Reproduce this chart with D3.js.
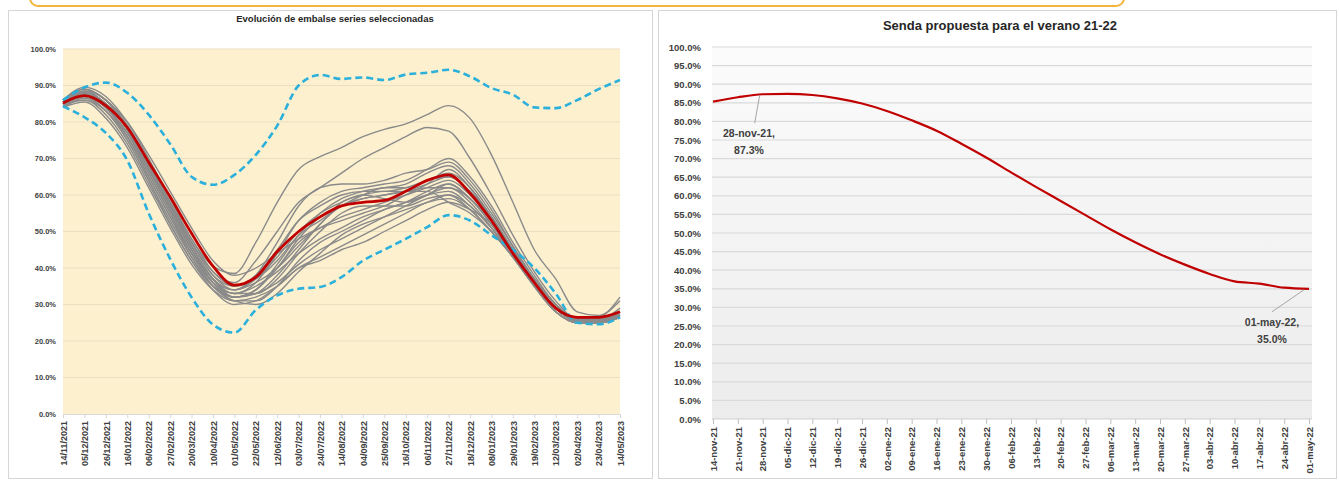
<!DOCTYPE html>
<html><head><meta charset="utf-8">
<script src="https://cdn.jsdelivr.net/npm/d3@7"></script>
<style>
html,body{margin:0;padding:0;background:#fff;}
svg{display:block;font-family:"Liberation Sans",Arial,sans-serif;}
</style></head><body>
<svg id="c" width="1339" height="482"></svg>
<script>
// ---------- LEFT CHART DATA ----------
const leftDates = ["14/11/2021","05/12/2021","26/12/2021","16/01/2022","06/02/2022","27/02/2022","20/03/2022","10/04/2022","01/05/2022","22/05/2022","12/06/2022","03/07/2022","24/07/2022","14/08/2022","04/09/2022","25/09/2022","16/10/2022","06/11/2022","27/11/2022","18/12/2022","08/01/2023","29/01/2023","19/02/2023","12/03/2023","02/04/2023","23/04/2023","14/05/2023"];
const leftTicks = [0,10,20,30,40,50,60,70,80,90,100];
const maxSeries = [86,89.5,90.8,88,82,74,65,62.8,65.5,71,79,90,92.9,91.8,92.2,91.5,93,93.5,94.3,92.5,89.3,87.5,84,83.8,86,89,91.5];
const minSeries = [84.3,81.3,77,69.5,55,42.5,32,24.5,22.3,28.5,32.5,34.3,34.8,37.5,42,45,48,51.2,54.5,53,49,45,40,33,25,24.6,26.5];
const meanSeries = [85.2,87.2,84.5,78.5,69,59.5,49.5,40.5,35.3,37.5,44.5,50,54,57,58,58.5,61,64,65.5,60.5,53,44,36,29,26.5,26.5,28];
const g01 = [86,89.5,87,80,70,59,48,40.5,38.5,47,58,67,70.5,73,76,78,79.5,82,84.5,81,71,58,45,37,28,27,31];
const g02 = [85,88.5,86,78,68,57,47,39,36,42,50,58,62,66,70,73,76,78.5,77.5,70,60,49,39,31,26,26.5,27];
const g03 = [86,89,86,79,69,58,47,38,34,38,47,57,62,63,63,64,66,67,69,64,56,46,37,30,26,26,27];
const g04 = [84.5,87,84,77,67,56,45,36,33,36,44,53,58,61,62,63,64,67,70,65,57,47,38,30,26,26,28];
const g05 = [85,88,85,78,68,57,46,37,32,34,41,49,55,59,61,62,63,66,68,63,55,46,37,30,26,26,27];
const g06 = [86,89,86,79,69,58,48,39,35,37,42,49,53,57,60,62,62,64,66,62,54,45,37,29,26,26,27.5];
const g07 = [85.5,88,84,76,65,54,44,36,32,33,38,45,52,57,59,60,61,63,65,61,54,45,36,29,26,26,28];
const g08 = [84,86.5,83,75,64,53,43,35,32,34,40,47,51,54,56,58,60,62,64,60,53,45,36,29,25.5,25.5,27];
const g09 = [85,87.5,84,77,67,56,45,36,31,31,35,42,47,50,53,56,58,61,63,59,52,44,36,29,25.5,25.5,27];
const g10 = [84.5,86,82,74,63,52,42,35,32,33,36,41,45,48,51,54,57,60,62,59,52,44,36,29,25.5,25.5,27];
const g11 = [85,87,83,76,66,55,44,36,33,35,39,44,48,51,54,56,58,60,61,57,51,43,35,28,25,25,26.5];
const g12 = [86,88.5,85,78,68,57,46,37,34,36,40,46,52,58,60,61,61,62,62,58,51,43,36,29,25.5,25.5,27];
const g13 = [85,88,85,78,67,56,45,37,33,33,37,44,50,55,57,57,57,59,60,56,50,43,35,28,25,25,26.5];
const g14 = [85.5,87.5,84,77,66,55,44,35,31,30,33,39,44,49,52,54,56,58,60,57,51,44,36,29,25.5,25.5,27];
const g15 = [84,85.5,81,73,62,51,41,34,31,32,35,40,43,46,49,52,55,58,59,56,50,43,35,28,25,25,27];
const g16 = [85,87,84,76,65,54,43,35,32,34,40,48,54,57,59,60,61,61,58,55,50,43,35,28,25,25,26.5];
const g17 = [86,89,86,80,71,61,51,42,38,40,44,48,51,53,55,57,60,63,67,62,54,45,37,30,26,26,27];
const g18 = [84.5,86,83,75,64,52,42,34,30,31,35,40,42,45,47,50,53,56,58,56,52,44,36,29,25.5,25,26.5];
const g19 = [85,87.5,85,79,69,58,47,38,35,38,45,53,57,60,61,61,62,64,65,61,54,45,37,30,26,26,29];
const g20 = [85.5,88,85,78,68,57,46,37,34,37,43,50,55,58,60,59,58,60,63,59,53,45,37,30,26,26.5,32];
const graySeries = [g01,g02,g03,g04,g05,g06,g07,g08,g09,g10,g11,g12,g13,g14,g15,g16,g17,g18,g19,g20];

// ---------- RIGHT CHART DATA ----------
const rightDates = ["14-nov-21","21-nov-21","28-nov-21","05-dic-21","12-dic-21","19-dic-21","26-dic-21","02-ene-22","09-ene-22","16-ene-22","23-ene-22","30-ene-22","06-feb-22","13-feb-22","20-feb-22","27-feb-22","06-mar-22","13-mar-22","20-mar-22","27-mar-22","03-abr-22","10-abr-22","17-abr-22","24-abr-22","01-may-22"];
const sendaValues = [85.3,86.5,87.3,87.4,87.1,86.2,84.8,82.8,80.3,77.5,74.0,70.3,66.3,62.4,58.6,54.8,51.0,47.5,44.3,41.5,39.0,37.0,36.4,35.3,35.0];
const rightTicks = [0,5,10,15,20,25,30,35,40,45,50,55,60,65,70,75,80,85,90,95,100];
const annotations = [{date:"28-nov-21", value:87.3, lines:["28-nov-21,","87.3%"]},{date:"01-may-22", value:35.0, lines:["01-may-22,","35.0%"]}];

const svg = d3.select("#c");

// top orange box edge
svg.append("rect").attr("x",30).attr("y",-30).attr("width",1094).attr("height",36)
  .attr("rx",8).attr("fill","#fff").attr("stroke","#f3b53c").attr("stroke-width",2);

// panels
svg.append("rect").attr("x",8.5).attr("y",10.5).attr("width",644).attr("height",468)
  .attr("fill","#fff").attr("stroke","#d6d6d6");
svg.append("rect").attr("x",658.5).attr("y",10.5).attr("width",678).attr("height",468)
  .attr("fill","#fff").attr("stroke","#d6d6d6");

// ================= LEFT =================
const L = {x0:63, x1:620, yT:49, yB:414};
const xL = d3.scalePoint().domain(d3.range(leftDates.length)).range([L.x0, L.x1]);
const yL = d3.scaleLinear().domain([0,100]).range([L.yB, L.yT]);
const gl = svg.append("g");
gl.append("rect").attr("x",L.x0).attr("y",L.yT).attr("width",L.x1-L.x0).attr("height",L.yB-L.yT).attr("fill","#fdf0cf");
gl.append("g").selectAll("line").data(leftTicks.filter(d=>d>0)).join("line")
  .attr("x1",L.x0).attr("x2",L.x1).attr("y1",d=>yL(d)).attr("y2",d=>yL(d))
  .attr("stroke","#ebdfc2").attr("stroke-width",1);
gl.append("text").attr("x",335).attr("y",22).attr("text-anchor","middle")
  .attr("font-size",9.5).attr("font-weight","bold").attr("fill","#262626")
  .text("Evolución de embalse series seleccionadas");
// y axis
const yAxL = d3.axisLeft(yL).tickValues(leftTicks).tickSize(0).tickPadding(7).tickFormat(d=>d.toFixed(1)+"%");
const yaL = gl.append("g").attr("transform",`translate(${L.x0},0)`).call(yAxL);
yaL.select(".domain").remove();
yaL.selectAll("text").attr("font-size",7.5).attr("font-weight","bold").attr("fill","#404040").attr("font-family","Liberation Sans, Arial");
// x axis
const xAxL = d3.axisBottom(xL).tickSize(4).tickFormat(i=>leftDates[i]);
const xaL = gl.append("g").attr("transform",`translate(0,${L.yB})`).call(xAxL);
xaL.select(".domain").attr("stroke","#d9d9d9");
xaL.selectAll(".tick line").attr("stroke","#d9d9d9");
xaL.selectAll("text").attr("font-size",9).attr("font-weight","bold").attr("fill","#404040")
  .attr("font-family","Liberation Sans, Arial")
  .attr("transform","rotate(-90)").attr("text-anchor","end").attr("dx","-7").attr("dy","0.35em").attr("y",0).attr("x",0);
const lineL = d3.line().x((d,i)=>xL(i)).y(d=>yL(d)).curve(d3.curveMonotoneX);
gl.append("g").selectAll("path").data(graySeries).join("path")
  .attr("d",lineL).attr("fill","none").attr("stroke","#8a8a8a").attr("stroke-width",1.4);
[maxSeries,minSeries].forEach(s=>{
  gl.append("path").attr("d",lineL(s)).attr("fill","none").attr("stroke","#2bb0dc")
    .attr("stroke-width",2.6).attr("stroke-dasharray","7,4");
});
gl.append("path").attr("d",lineL(meanSeries)).attr("fill","none").attr("stroke","#c00000").attr("stroke-width",2.8);

// ================= RIGHT =================
const R = {x0:712, x1:1312, yT:47, yB:419};
const xR = d3.scalePoint().domain(rightDates).range([713, 1309]);
const yR = d3.scaleLinear().domain([0,100]).range([R.yB, R.yT]);
const gr = svg.append("g");
const grad = svg.append("defs").append("linearGradient").attr("id","rg").attr("x1",0).attr("y1",0).attr("x2",0).attr("y2",1);
grad.append("stop").attr("offset","0%").attr("stop-color","#fbfbfb");
grad.append("stop").attr("offset","100%").attr("stop-color","#ececec");
gr.append("rect").attr("x",R.x0).attr("y",R.yT).attr("width",R.x1-R.x0).attr("height",R.yB-R.yT).attr("fill","url(#rg)");
gr.append("g").selectAll("line").data(rightTicks.filter(d=>d>0)).join("line")
  .attr("x1",R.x0).attr("x2",R.x1).attr("y1",d=>yR(d)).attr("y2",d=>yR(d))
  .attr("stroke","#dadada").attr("stroke-width",1.2);
gr.append("text").attr("x",1000).attr("y",30).attr("text-anchor","middle")
  .attr("font-size",13).attr("font-weight","bold").attr("fill","#262626")
  .text("Senda propuesta para el verano 21-22");
const yAxR = d3.axisLeft(yR).tickValues(rightTicks).tickSize(0).tickPadding(11).tickFormat(d=>d.toFixed(1)+"%");
const yaR = gr.append("g").attr("transform",`translate(${R.x0},0)`).call(yAxR);
yaR.select(".domain").remove();
yaR.selectAll("text").attr("font-size",9.5).attr("font-weight","bold").attr("fill","#404040").attr("font-family","Liberation Sans, Arial");
const xAxR = d3.axisBottom(xR).tickSize(5);
const xaR = gr.append("g").attr("transform",`translate(0,${R.yB})`).call(xAxR);
xaR.select(".domain").attr("stroke","#d0d0d0").attr("d",`M${R.x0},0H${R.x1}`);
xaR.selectAll(".tick line").attr("stroke","#bfbfbf");
xaR.selectAll("text").attr("font-size",9.5).attr("font-weight","bold").attr("fill","#404040")
  .attr("font-family","Liberation Sans, Arial")
  .attr("transform","rotate(-90)").attr("text-anchor","end").attr("dx","-8").attr("dy","0.35em").attr("y",0).attr("x",0);
const lineR = d3.line().x((d,i)=>xR(rightDates[i])).y(d=>yR(d)).curve(d3.curveMonotoneX);
gr.append("path").attr("d",lineR(sendaValues)).attr("fill","none").attr("stroke","#c00000").attr("stroke-width",2.2);
// annotations
const a0 = annotations[0], a1 = annotations[1];
gr.append("line").attr("x1",xR(a0.date)-3).attr("y1",yR(a0.value)+1).attr("x2",xR(a0.date)-8).attr("y2",yR(a0.value)+29)
  .attr("stroke","#a6a6a6").attr("stroke-width",1);
gr.append("line").attr("x1",xR(a1.date)-5).attr("y1",yR(a1.value)+1).attr("x2",xR(a1.date)-37).attr("y2",yR(a1.value)+23)
  .attr("stroke","#a6a6a6").attr("stroke-width",1);
const annPos = [{x:749,y:137},{x:1272,y:326}];
annotations.forEach((a,k)=>{
  const t = gr.append("text").attr("text-anchor","middle").attr("font-size",10.5).attr("font-weight","bold").attr("fill","#404040");
  a.lines.forEach((s,j)=>t.append("tspan").attr("x",annPos[k].x).attr("y",annPos[k].y+j*17).text(s));
});
</script>
</body></html>
